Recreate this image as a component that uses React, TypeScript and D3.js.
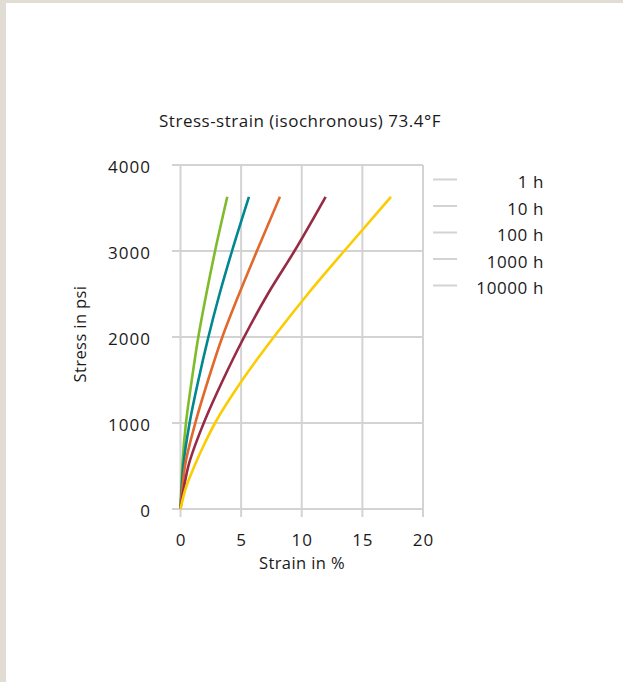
import React from "react";
import * as d3 from "d3";

const title = "Stress-strain (isochronous) 73.4°F";
const xTicks = [0, 5, 10, 15, 20];
const yTicks = [0, 1000, 2000, 3000, 4000];
const seriesNames = ["1 h", "10 h", "100 h", "1000 h", "10000 h"];
const seriesColors = ["#7fbb2b", "#00878f", "#e2692c", "#972a45", "#fbcc00"];

const stressLevels = [0, 250, 500, 1000, 1500, 2000, 2500, 3000, 3630];
const strain1h = [0, 0.07, 0.15, 0.45, 0.93, 1.47, 2.13, 2.85, 3.86];
const strain10h = [0, 0.1, 0.23, 0.75, 1.48, 2.3, 3.22, 4.25, 5.65];
const strain100h = [0, 0.16, 0.37, 1.22, 2.28, 3.45, 4.83, 6.3, 8.2];
const strain1000h = [0, 0.28, 0.65, 1.92, 3.5, 5.25, 7.2, 9.4, 11.97];
const stressLevelsY = [0, 250, 500, 750, 1000, 1500, 2000, 2500, 3000, 3630];
const strain10000h = [0, 0.45, 1.15, 1.95, 2.85, 5.1, 7.7, 10.5, 13.5, 17.36];

const series = [
  { stress: stressLevels, strain: strain1h },
  { stress: stressLevels, strain: strain10h },
  { stress: stressLevels, strain: strain100h },
  { stress: stressLevels, strain: strain1000h },
  { stress: stressLevelsY, strain: strain10000h },
];

const FONT = "'Open Sans', 'Noto Sans', sans-serif";

export default function App() {
  const W = 623, H = 682;
  const x = d3.scaleLinear().domain([0, 20]).range([180.5, 423]);
  const y = d3.scaleLinear().domain([0, 4000]).range([509, 165]);
  const line = d3
    .line<[number, number]>()
    .x((d) => x(d[0]))
    .y((d) => y(d[1]))
    .curve(d3.curveMonotoneY);
  const grid = "#d3d3d3";
  const ink = "#1a1a1a";
  return (
    <svg
      width={W}
      height={H}
      style={{ position: "absolute", left: 0, top: 0 }}
      fontFamily={FONT}
    >
      <rect x={0} y={0} width={W} height={H} fill="#e1ddd5" />
      <rect x={6} y={3} width={W - 6} height={H - 3} fill="#ffffff" />
      <text x={300} y={127} textAnchor="middle" fontSize={17} letterSpacing={0.5} fill={ink}>
        {title}
      </text>
      {yTicks.map((t) => (
        <g key={"y" + t}>
          <line x1={172} x2={x(20)} y1={y(t)} y2={y(t)} stroke={grid} strokeWidth={2} />
          <text x={151} y={y(t) + 8} textAnchor="end" fontSize={17} letterSpacing={1} fill={ink}>
            {t}
          </text>
        </g>
      ))}
      {xTicks.map((t) => (
        <g key={"x" + t}>
          <line x1={x(t)} x2={x(t)} y1={y(4000)} y2={517} stroke={grid} strokeWidth={2} />
          <text x={x(t) + 0.5} y={546} textAnchor="middle" fontSize={17} letterSpacing={1} fill={ink}>
            {t}
          </text>
        </g>
      ))}
      <text x={302} y={569} textAnchor="middle" fontSize={16.5} letterSpacing={0.4} fill={ink}>
        Strain in %
      </text>
      <text
        transform={`translate(86,334) rotate(-90)`}
        textAnchor="middle"
        fontSize={16.5}
        letterSpacing={0.4}
        fill={ink}
      >
        Stress in psi
      </text>
      {series.map((s, i) => (
        <path
          key={"s" + i}
          d={line(s.stress.map((v, j) => [s.strain[j], v] as [number, number])) || ""}
          fill="none"
          stroke={seriesColors[i]}
          strokeWidth={2.6}
        />
      ))}
      {seriesNames.map((n, i) => (
        <g key={"l" + i}>
          <line
            x1={433}
            x2={457}
            y1={179.5 + i * 26.5}
            y2={179.5 + i * 26.5}
            stroke={grid}
            strokeWidth={2}
          />
          <text x={544} y={188 + i * 26.5} textAnchor="end" fontSize={17} letterSpacing={0.6} fill={ink}>
            {n}
          </text>
        </g>
      ))}
    </svg>
  );
}
